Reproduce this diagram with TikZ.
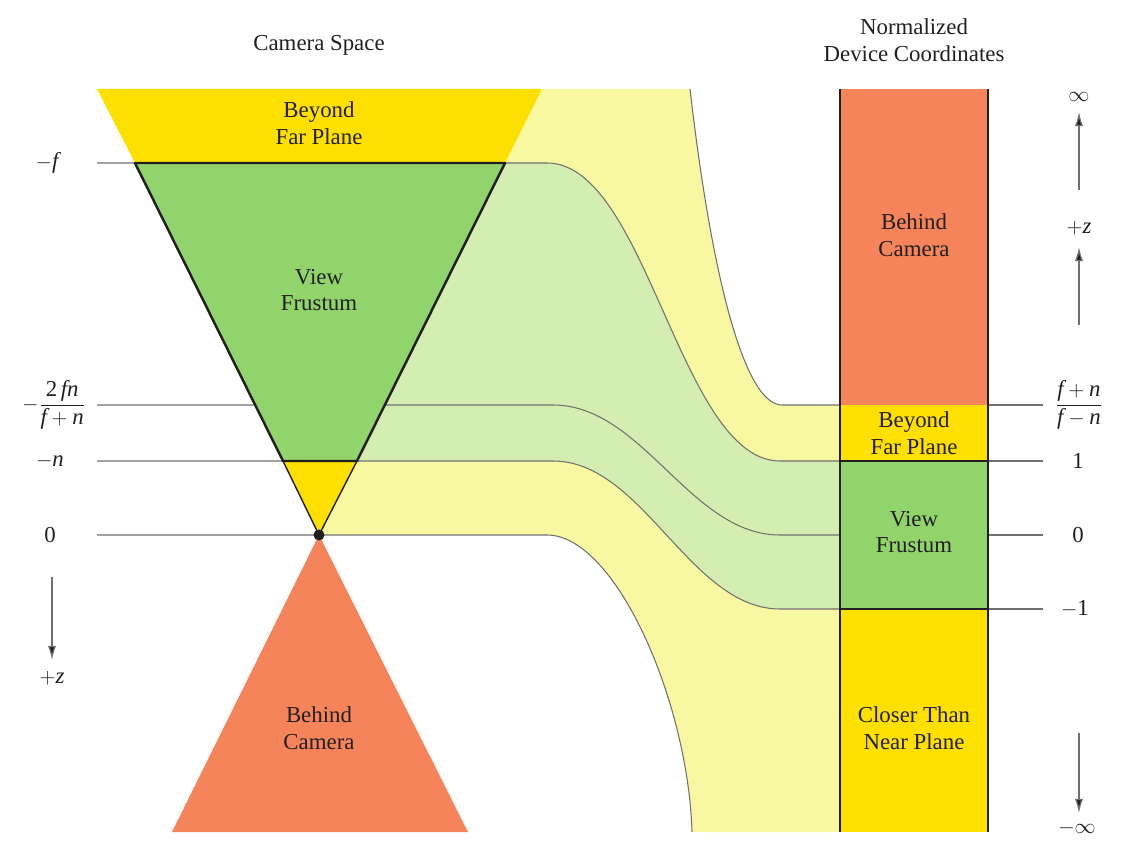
\documentclass[tikz,border=0pt]{standalone}
\usepackage{fontspec}
\setmainfont{Liberation Serif}
\usetikzlibrary{arrows.meta}
\definecolor{yelD}{HTML}{FEE000}
\definecolor{grnD}{HTML}{90D46B}
\definecolor{orng}{HTML}{F5845B}
\definecolor{yelL}{HTML}{F8F8A2}
\definecolor{grnL}{HTML}{D4EDB1}
\definecolor{txt}{HTML}{231F20}
\definecolor{guide}{HTML}{707070}
\tikzset{
  guideline/.style={draw=guide, line width=0.6pt},
  thickborder/.style={draw=txt, line width=1.4pt, line join=round},
  thinborder/.style={draw=txt, line width=0.8pt},
  lbl/.style={text=txt, inner sep=0pt, align=center, font=\fontsize{13}{15.3}\selectfont},
  axarrow/.style={draw=guide, line width=0.7pt, -{Latex[length=8pt,width=4.6pt,fill=txt]}},
}
\begin{document}
\begin{tikzpicture}[x=0.02cm, y=-0.02cm]
\useasboundingbox (0,0) rectangle (1133,864);
% key coordinates
\coordinate (apex) at (319,535);
\coordinate (tl) at (97,89);
\coordinate (tr) at (542,89);
\coordinate (fl) at (135,163);
\coordinate (fr) at (505,163);
\coordinate (nl) at (283,461);
\coordinate (nr) at (357,461);
\coordinate (bl) at (172,832);
\coordinate (br) at (468,832);
% light yellow band
\fill[yelL] (tr) -- (apex) -- (547,535) .. controls (615,535) and (688,700) .. (692,832)
  -- (840,832) -- (840,405) -- (782,405) .. controls (745,405) and (712,280) .. (690,89) -- cycle;
% light green band
\fill[grnL] (fr) -- (547,163) .. controls (647,163) and (680,461) .. (780,461) -- (840,461)
  -- (840,609) -- (780,609) .. controls (690,609) and (643,461) .. (553,461) -- (nr) -- cycle;
% guide lines and curves
\draw[guideline] (97,163) -- (547,163) .. controls (647,163) and (680,461) .. (780,461) -- (840,461);
\draw[guideline] (97,405) -- (553,405) .. controls (643,405) and (690,535) .. (780,535) -- (840,535);
\draw[guideline] (97,461) -- (553,461) .. controls (643,461) and (690,609) .. (780,609) -- (840,609);
\draw[guideline] (97,535) -- (547,535) .. controls (615,535) and (688,700) .. (692,832);
\draw[guideline] (690,89) .. controls (712,280) and (745,405) .. (782,405) -- (840,405);
\foreach \yy in {405,461,535,609} \draw[guideline] (988,\yy) -- (1043,\yy);
% camera space shapes
\fill[yelD] (tl) -- (tr) -- (fr) -- (fl) -- cycle;
\fill[orng] (apex) -- (br) -- (bl) -- cycle;
\filldraw[fill=yelD, thinborder] (nl) -- (nr) -- (apex) -- cycle;
\filldraw[fill=grnD, thickborder] (fl) -- (fr) -- (nr) -- (nl) -- cycle;
\fill[txt] (apex) circle (5.5);
% NDC column
\fill[orng] (840,89) rectangle (988,405);
\fill[yelD] (840,405) rectangle (988,461);
\fill[yelD] (840,609) rectangle (988,832);
\draw[thinborder] (840,89) -- (840,832);
\draw[thinborder] (988,89) -- (988,832);
\filldraw[fill=grnD, thickborder] (840,461) rectangle (988,609);
% titles
\node[lbl] (camtitle) at (319,45) {Camera Space};
\node[lbl] (ndctitle) at (914,40) {Normalized\\Device Coordinates};
% camera labels
\node[lbl] (cbeyond) at (319,123) {Beyond\\Far Plane};
\node[lbl] (cview) at (319,290) {View\\Frustum};
\node[lbl] (cbehind) at (319,728) {Behind\\Camera};
% ndc labels
\node[lbl] (nbehind) at (914,235) {Behind\\Camera};
\node[lbl] (nbeyond) at (914,433) {Beyond\\Far Plane};
\node[lbl] (nview) at (914,532) {View\\Frustum};
\node[lbl] (ncloser) at (914,728) {Closer Than\\Near Plane};
% left axis labels
\node[lbl] (lf) at (47,163) {$-\textit{f}$};
\node[lbl] (lfrac) at (54,405) {$-\displaystyle\frac{\textrm{2}\,\textit{fn}}{\textit{f}+\textit{n}}$};
\node[lbl] (ln) at (50,461) {$-\textit{n}$};
\node[lbl] (lzero) at (50,535) {0};
\node[lbl] (lz) at (52,678) {$+\textit{z}$};
\coordinate (la1) at (52,577);
\coordinate (la2) at (52,660);
\draw[axarrow] (la1) -- (la2);
% right axis labels
\node[lbl] (rinf) at (1079,97) {$\infty$};
\node[lbl] (rz) at (1079,228) {$+\textit{z}$};
\node[lbl] (rfrac) at (1079,405) {$\displaystyle\frac{\textit{f}+\textit{n}}{\textit{f}-\textit{n}}$};
\node[lbl] (rone) at (1078,461) {1};
\node[lbl] (rzero) at (1078,535) {0};
\node[lbl] (rmone) at (1075,609) {$-$1};
\node[lbl] (rminf) at (1077,828) {$-\infty$};
\coordinate (ra1) at (1079,190);
\coordinate (ra2) at (1079,112);
\coordinate (ra3) at (1079,325);
\coordinate (ra4) at (1079,247);
\coordinate (ra5) at (1079,733);
\coordinate (ra6) at (1079,813);
\draw[axarrow] (ra1) -- (ra2);
\draw[axarrow] (ra3) -- (ra4);
\draw[axarrow] (ra5) -- (ra6);
\end{tikzpicture}
\end{document}
